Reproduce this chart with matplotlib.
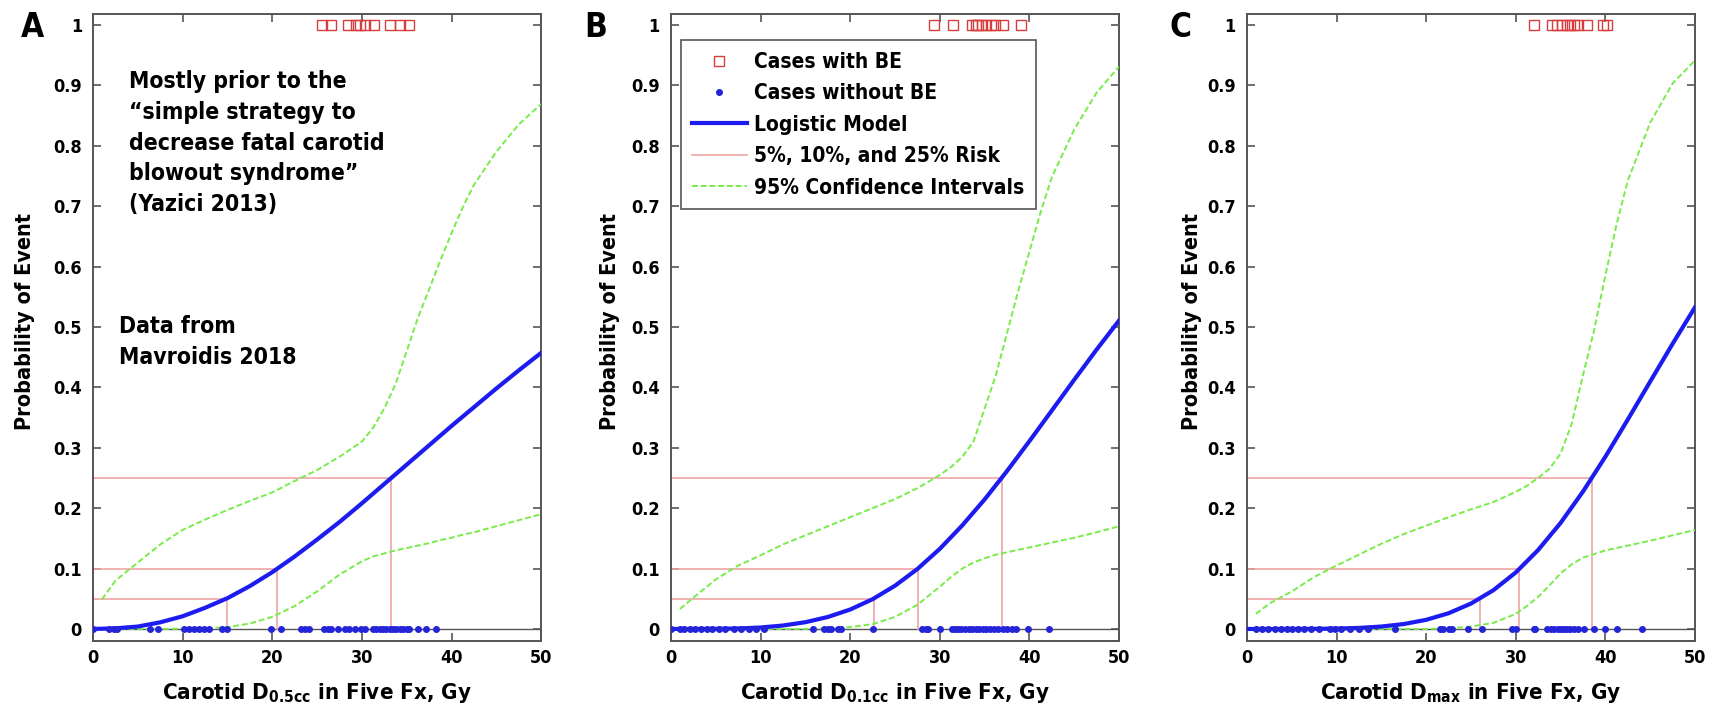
import numpy as np
import matplotlib
matplotlib.use('Agg')
import matplotlib.pyplot as plt

plt.rcParams['font.family'] = ['DejaVu Sans']
plt.rcParams['font.stretch'] = 'condensed'
plt.rcParams['font.weight'] = 'bold'
plt.rcParams['mathtext.default'] = 'regular'

# fitted model curves, sampled every 2.5 Gy
model_dose = [0, 2.5, 5, 7.5, 10, 12.5, 15, 17.5, 20, 22.5, 25,
              27.5, 30, 32.5, 35, 37.5, 40, 42.5, 45, 47.5, 50]
model_a = [0, 0.001, 0.004, 0.011, 0.021, 0.035, 0.051, 0.071, 0.094, 0.120, 0.148,
           0.177, 0.208, 0.240, 0.272, 0.304, 0.336, 0.367, 0.398, 0.428, 0.457]
model_b = [0, 0, 0.0002, 0.0008, 0.0024, 0.0057, 0.0112, 0.0198, 0.0322, 0.0493, 0.0716,
           0.0993, 0.1327, 0.1714, 0.2145, 0.2615, 0.311, 0.3617, 0.4126, 0.4626, 0.5107]
model_c = [0, 0, 0, 0.0002, 0.0006, 0.0017, 0.0040, 0.0081, 0.0151, 0.0260, 0.0420,
           0.0641, 0.0935, 0.1307, 0.1755, 0.2274, 0.2851, 0.3466, 0.4095, 0.472, 0.5324]

# 95% confidence bands (denser where they bend)
ci_dose = [1, 2.5, 5, 7.5, 10, 12.5, 15, 17.5, 20, 22.5, 25, 27.5, 30, 31.25, 32.5,
           33.75, 35, 36.25, 37.5, 38.75, 40, 41.25, 42.5, 45, 47.5, 50]
ci_hi_a = [0.049, 0.080, 0.110, 0.140, 0.164, 0.181, 0.197, 0.212, 0.226, 0.245, 0.263,
           0.285, 0.31, 0.333, 0.365, 0.405, 0.46, 0.515, 0.562, 0.61, 0.655, 0.698, 0.735,
           0.79, 0.835, 0.869]
ci_lo_a = [0, 0, 0, 0, 0.0005, 0.001, 0.003, 0.009, 0.02, 0.038, 0.062, 0.09, 0.112,
           0.12, 0.125, 0.13, 0.134, 0.138, 0.142, 0.147, 0.151, 0.156, 0.160, 0.170,
           0.180, 0.19]
ci_hi_b = [0.033, 0.052, 0.082, 0.105, 0.122, 0.140, 0.155, 0.170, 0.185, 0.200, 0.215,
           0.233, 0.255, 0.268, 0.285, 0.31, 0.365, 0.42, 0.49, 0.56, 0.625, 0.69, 0.748,
           0.827, 0.888, 0.931]
ci_lo_b = [0, 0, 0, 0, 0, 0, 0, 0.001, 0.003, 0.008, 0.02, 0.04, 0.07, 0.086, 0.10,
           0.11, 0.117, 0.123, 0.127, 0.131, 0.135, 0.139, 0.143, 0.151, 0.16, 0.17]
ci_hi_c = [0.025, 0.042, 0.062, 0.086, 0.105, 0.123, 0.141, 0.157, 0.171, 0.185, 0.198,
           0.210, 0.227, 0.237, 0.25, 0.265, 0.29, 0.34, 0.42, 0.495, 0.585, 0.67, 0.742,
           0.838, 0.903, 0.941]
ci_lo_c = [0, 0, 0, 0, 0, 0, 0, 0, 0, 0.001, 0.004, 0.01, 0.025, 0.038, 0.053, 0.072,
           0.092, 0.107, 0.118, 0.124, 0.13, 0.134, 0.138, 0.146, 0.155, 0.164]

# risk levels and the doses where the model reaches them
risk_levels = [0.05, 0.10, 0.25]
risk_dose_a = [14.9, 20.5, 33.3]
risk_dose_b = [22.6, 27.6, 36.9]
risk_dose_c = [26.0, 30.4, 38.5]

# patient doses (Gy): with blowout event (plotted at 1) and without (plotted at 0)
be_a = [25.5, 26.6, 28.4, 29.3, 29.8, 30.3, 31.3, 33.1, 34.3, 35.3]
be_b = [29.4, 31.5, 33.6, 34.0, 34.3, 34.7, 35.1, 35.7, 36.2, 37.0, 39.0]
be_c = [32.0, 34.1, 34.6, 35.2, 35.7, 36.1, 36.5, 36.9, 38.0, 39.7, 40.2]
nobe_a = [0, 1.75, 2.3, 2.7, 6.4, 7.2, 10.1, 10.7, 11.3, 11.8, 12.4, 12.9, 14.4, 15.0,
          19.9, 21.0, 23.2, 23.6, 24.1, 25.8, 26.2, 26.6, 27.3, 28.1, 28.6, 29.2, 29.9,
          30.3, 31.2, 31.6, 32.0, 32.4, 32.7, 33.1, 33.5, 33.8, 34.2, 34.6, 35.0, 35.3,
          36.3, 37.2, 38.3]
nobe_b = [0, 1.0, 1.5, 2.1, 2.7, 3.3, 4.0, 4.6, 5.3, 6.0, 7.0, 7.8, 8.7, 9.5, 10.4,
          15.8, 17.1, 17.5, 17.9, 18.6, 19.0, 22.5, 28.0, 28.4, 28.7, 30.0, 31.3, 31.7,
          32.0, 32.4, 32.8, 33.2, 33.6, 34.0, 34.4, 34.8, 35.2, 35.6, 36.0, 36.5, 37.0,
          37.5, 38.0, 38.5, 39.8, 42.2]
nobe_c = [1.0, 1.7, 2.4, 3.1, 3.8, 4.5, 5.0, 5.7, 6.4, 7.1, 8.0, 9.3, 9.8, 10.5, 11.5,
          12.5, 13.5, 16.5, 21.6, 21.9, 22.5, 22.9, 24.7, 26.2, 29.6, 30.0, 32.0, 32.2,
          33.5, 33.9, 34.3, 34.7, 35.0, 35.4, 35.7, 36.1, 36.5, 37.0, 37.6, 38.7, 40.0,
          41.3, 44.1]

panels = [
    ('A', r'Carotid D$_{0.5cc}$ in Five Fx, Gy', model_a, ci_hi_a, ci_lo_a,
     risk_dose_a, be_a, nobe_a, 0.0543, -0.129, 0.0187),
    ('B', r'Carotid D$_{0.1cc}$ in Five Fx, Gy', model_b, ci_hi_b, ci_lo_b,
     risk_dose_b, be_b, nobe_b, 0.3915, -0.115, 0.3477),
    ('C', r'Carotid D$_{max}$ in Five Fx, Gy', model_c, ci_hi_c, ci_lo_c,
     risk_dose_c, be_c, nobe_c, 0.7275, -0.100, 0.6890),
]

blue = '#1c1cf0'
green = '#78ec48'
pink = '#f0a4a4'
red = '#d83c3c'

fig = plt.figure(figsize=(17.14, 7.18), dpi=100)

for letter, xlab, model, hi, lo, rdose, be, nobe, left, ylab_x, let_x in panels:
    ax = fig.add_axes([left, 0.1072, 0.2614, 0.8733])

    ax.axhline(0, color='#555555', lw=1.0, zorder=1)
    for i, (p, d) in enumerate(zip(risk_levels, rdose)):
        ax.plot([0, d, d], [p, p, 0], color=pink, lw=1.2, zorder=2,
                label='5%, 10%, and 25% Risk' if i == 0 else None)
    ax.plot(be, np.ones(len(be)), 's', mfc='none', mec=red, ms=6.5, mew=1.0,
            zorder=5, label='Cases with BE')
    ax.plot(nobe, np.zeros(len(nobe)), '.', color='#2424d8', ms=8, zorder=5,
            label='Cases without BE')
    ax.plot(model_dose, model, color=blue, lw=3, zorder=4, label='Logistic Model')
    ax.plot(ci_dose, hi, '--', color=green, lw=1.4, dashes=(3, 1.5), zorder=3,
            label='95% Confidence Intervals')
    ax.plot(ci_dose, lo, '--', color=green, lw=1.4, dashes=(3, 1.5), zorder=3)

    ax.set_xlim(0, 50)
    ax.set_ylim(-0.02, 1.018)
    ax.set_xticks([0, 10, 20, 30, 40, 50])
    ax.set_yticks(np.arange(0, 1.01, 0.1))
    ax.set_yticklabels(['0', '0.1', '0.2', '0.3', '0.4', '0.5', '0.6', '0.7', '0.8', '0.9', '1'])
    ax.tick_params(direction='in', top=True, right=True, length=6, width=1.2,
                   color='#555555', labelsize=13)
    ax.tick_params(axis='x', pad=6)
    ax.tick_params(axis='y', pad=8)
    for s in ax.spines.values():
        s.set_color('#555555')
        s.set_linewidth(1.4)

    ax.set_xlabel(xlab, fontsize=16, fontweight='bold')
    ax.xaxis.set_label_coords(0.5, -0.083)
    ax.xaxis.label.set_va('center')
    ax.set_ylabel('Probability of Event', fontsize=15.5, fontweight='bold')
    ax.yaxis.set_label_coords(ylab_x, 0.51)

    fig.text(let_x, 0.962, letter, fontsize=24, fontweight='bold',
             ha='center', va='center')

    if letter == 'A':
        ax.text(4.0, 0.925, 'Mostly prior to the\n\u201csimple strategy to\n'
                'decrease fatal carotid\nblowout syndrome\u201d\n(Yazici 2013)',
                fontsize=16.5, fontweight='bold', va='top', ha='left', linespacing=1.43)
        ax.text(2.85, 0.52, 'Data from\nMavroidis 2018', fontsize=16.5,
                fontweight='bold', va='top', ha='left', linespacing=1.43)
    if letter == 'B':
        h, l = ax.get_legend_handles_labels()
        order = [l.index(k) for k in ['Cases with BE', 'Cases without BE', 'Logistic Model',
                                      '5%, 10%, and 25% Risk', '95% Confidence Intervals']]
        leg = ax.legend([h[i] for i in order], [l[i] for i in order],
                        loc='upper left', bbox_to_anchor=(0.022, 0.958),
                        borderaxespad=0, fontsize=15, handlelength=2.6,
                        fancybox=False, framealpha=1, labelspacing=0.55,
                        borderpad=0.55, handletextpad=0.35)
        leg.get_frame().set_edgecolor('#555555')
        leg.get_frame().set_linewidth(1.2)

plt.savefig('out.png', dpi=100)
